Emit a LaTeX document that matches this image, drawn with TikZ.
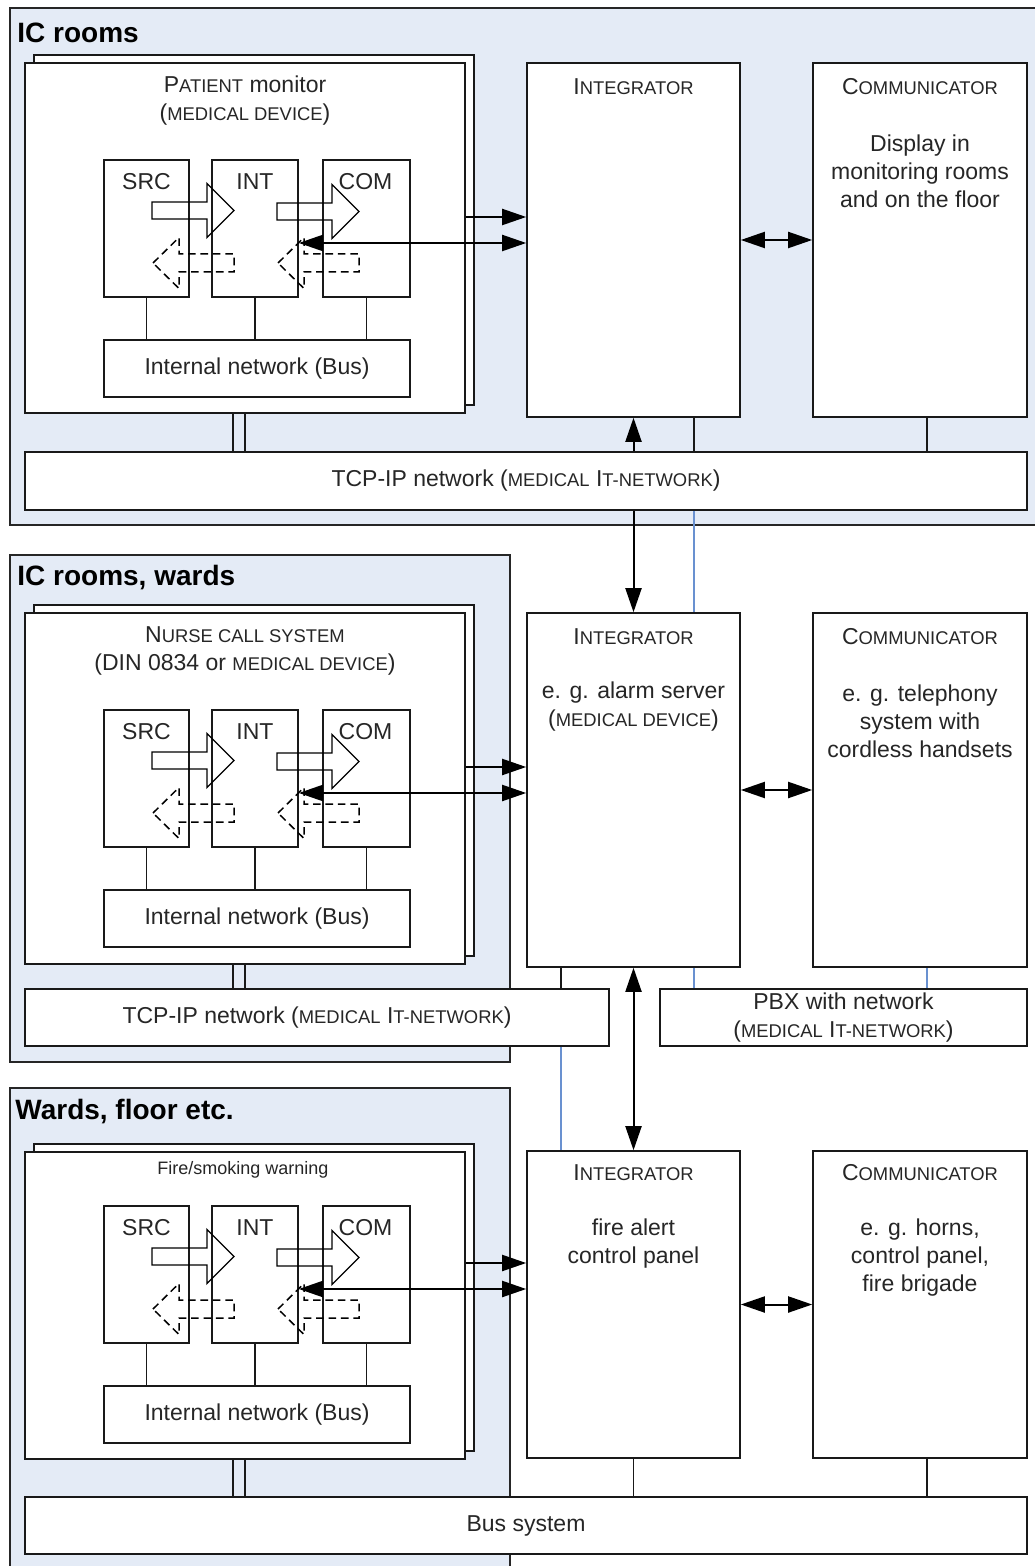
\documentclass[tikz,border=0pt]{standalone}
\usepackage{fontspec}
\setmainfont{Liberation Sans}
\usepackage{tikz}
\usetikzlibrary{arrows.meta,positioning,calc}

\definecolor{roombg}{RGB}{228,235,246}
\definecolor{netblue}{RGB}{105,145,208}

% smaller capitals
\newcommand{\kl}[1]{{\fontsize{9.2}{11}\selectfont #1}}

\tikzset{
  room/.style={draw=black!85, fill=roombg, line width=0.8pt},
  box/.style={draw=black!90, fill=white, line width=0.8pt, inner sep=0pt},
  txt/.style={font=\fontsize{11.5}{14}\selectfont, align=center, inner sep=0pt, text=black!85},
  title/.style={font=\fontsize{14}{16}\selectfont\bfseries, anchor=west, inner sep=0pt},
  link/.style={draw=black!90, line width=0.8pt},
  bluelink/.style={draw=netblue, line width=0.65pt},
  flow/.style={line width=1pt, -{Triangle[length=12pt,width=8pt]}},
  flow2/.style={line width=1pt, {Triangle[length=12pt,width=8pt]}-{Triangle[length=12pt,width=8pt]}},
  pics/fatarrow/.style={code={
    \draw[line width=0.65pt] (0,-8.5) -- (55,-8.5) -- (55,-27) -- (82,0) -- (55,27) -- (55,8.5) -- (0,8.5) -- cycle;}},
  pics/backarrow/.style={code={
    \draw[line width=0.75pt, dash pattern=on 3.8pt off 2.4pt] (0,0) -- (26,-25.5) -- (26,-9) -- (81,-9) -- (81,9) -- (26,9) -- (26,25.5) -- cycle;}},
}

\begin{document}
\begin{tikzpicture}[x=0.5pt,y=-0.5pt]
        \useasboundingbox (0,0) rectangle (1034,1566);
        % rooms
        \draw[room] (10,8) rectangle (1050,525);
        \draw[room] (10,555) rectangle (510,1062);
        \draw[room] (10,1088) rectangle (510,1590);
        \node[title] (roomA) at (17,33) {IC rooms};
        \node[title] (roomB) at (17,578) {IC rooms, wards};
        \node[title] (roomC) at (15,1112) {Wards, floor etc.};

        \coordinate (lnA) at (233,0);
        \coordinate (lnB) at (245,0);
        \coordinate (lnC) at (694,0);
        \coordinate (lnD) at (561,0);
        \coordinate (lnE) at (927,0);

        % integrators, communicators
        \node[box, minimum width=106.5pt, minimum height=177pt] (integA) at (633.5,240) {};
        \node[box, minimum width=107pt, minimum height=177pt] (commA) at (920,240) {};
        \node[box, minimum width=106.5pt, minimum height=177pt] (integB) at (633.5,790) {};
        \node[box, minimum width=107pt, minimum height=177pt] (commB) at (920,790) {};
        \node[box, minimum width=106.5pt, minimum height=153.5pt] (integC) at (633.5,1304.5) {};
        \node[box, minimum width=107pt, minimum height=153.5pt] (commC) at (920,1304.5) {};

        \node[txt] (integAt) at (633.5,87) {I\kl{NTEGRATOR}};
        \node[txt] (commAt) at (920,87) {C\kl{OMMUNICATOR}};
        \node[txt] (commAd) at (920,171) {Display in\\monitoring rooms\\and on the floor};
        \node[txt] (integBt) at (633.5,637) {I\kl{NTEGRATOR}};
        \node[txt] (integBd) at (633.5,707) {e. g. alarm server\\(\kl{MEDICAL DEVICE})};
        \node[txt] (commBt) at (920,637) {C\kl{OMMUNICATOR}};
        \node[txt] (commBd) at (920,721) {e. g. telephony\\system with\\cordless handsets};
        \node[txt] (integCt) at (633.5,1173) {I\kl{NTEGRATOR}};
        \node[txt] (integCd) at (633.5,1244) {fire alert\\control panel};
        \node[txt] (commCt) at (920,1173) {C\kl{OMMUNICATOR}};
        \node[txt] (commCd) at (920,1258) {e. g. horns,\\control panel,\\fire brigade};

        % networks
        \node[box, txt, minimum width=501pt, minimum height=29pt] (tcpA) at (526,481) {TCP-IP network (\kl{MEDICAL} I\kl{T-NETWORK})};
        \node[box, txt, minimum width=292pt, minimum height=28.5pt] (tcpB) at (317,1017.5) {TCP-IP network (\kl{MEDICAL} I\kl{T-NETWORK})};
        \node[box, txt, minimum width=183.5pt, minimum height=28.5pt] (pbx) at (843.5,1017.5) {PBX with network\\(\kl{MEDICAL} I\kl{T-NETWORK})};
        \node[box, txt, minimum width=501pt, minimum height=28.5pt] (bussys) at (526,1525.5) {Bus system};

        % devices
        \foreach \s/\o/\t/\b/\n in {A/0/63/413/tcpA, B/550/613/964/tcpB, C/1046/1152/1459/bussys}{
          \pgfmathsetmacro\h{(\b-\t)/2}
          \node[box, minimum width=220pt, minimum height=\h pt] (devb\s) at (254,{(\t+\b)/2-8}) {};
          \node[box, minimum width=220pt, minimum height=\h pt] (dev\s) at (245,{(\t+\b)/2}) {};
          \node[box, minimum width=42.5pt, minimum height=68.5pt] (src\s) at (146.5,228.5+\o) {};
          \node[box, minimum width=43pt, minimum height=68.5pt] (int\s) at (255,228.5+\o) {};
          \node[box, minimum width=43.5pt, minimum height=68.5pt] (com\s) at (366.5,228.5+\o) {};
          \node[box, txt, minimum width=153pt, minimum height=28.5pt] (ibus\s) at (257,368.5+\o) {Internal network (Bus)};
          \node[txt] (srct\s) at (146.5,182+\o) {SRC};
          \node[txt] (intt\s) at (255,182+\o) {INT};
          \node[txt] (comt\s) at (365.5,182+\o) {COM};
          \draw[link] (src\s) -- (src\s |- ibus\s.north);
          \draw[link] (int\s) -- (int\s |- ibus\s.north);
          \draw[link] (com\s) -- (com\s |- ibus\s.north);
          \pic at (152,210.5+\o) {fatarrow};
          \pic at (277,211.5+\o) {fatarrow};
          \pic at (153,263+\o) {backarrow};
          \pic at (278,263+\o) {backarrow};
          \coordinate (ya\s) at (0,217+\o);
          \coordinate (yb\s) at (0,243+\o);
          \draw[flow] (dev\s.east |- ya\s) -- (integ\s.west |- ya\s);
          \draw[flow2] (int\s.east |- yb\s) -- (integ\s.west |- yb\s);
          \draw[link] (lnA |- dev\s.south) -- (lnA |- \n.north);
          \draw[link] (lnB |- dev\s.south) -- (lnB |- \n.north);
          \draw[flow2] (integ\s) -- (comm\s);
        }
        \node[txt] (devAt) at (245,101) {P\kl{ATIENT} monitor\\(\kl{MEDICAL DEVICE})};
        \node[txt] (devBt) at (245,651) {N\kl{URSE CALL SYSTEM}\\(DIN 0834 or \kl{MEDICAL DEVICE})};
        \node[txt, font=\fontsize{9}{11}\selectfont] (devCt) at (243,1170) {Fire/smoking warning};

        % links between the rooms
        \draw[flow] (tcpA.north -| integA) -- (integA);
        \draw[flow] (tcpA.south -| integA) -- (integB);
        \draw[flow2] (integB) -- (integC);
        \draw[link] (lnC |- integA.south) -- (lnC |- tcpA.north);
        \draw[link] (lnE |- commA.south) -- (lnE |- tcpA.north);
        \draw[bluelink] (lnC |- tcpA.south) -- (lnC |- integB.north);
        \draw[link] (lnD |- integB.south) -- (lnD |- tcpB.north);
        \draw[bluelink] (lnC |- integB.south) -- (lnC |- pbx.north);
        \draw[bluelink] (lnE |- commB.south) -- (lnE |- pbx.north);
        \draw[bluelink] (lnD |- tcpB.south) -- (lnD |- integC.north);
        \draw[link] (integC) -- (integC |- bussys.north);
        \draw[link] (lnE |- commC.south) -- (lnE |- bussys.north);
\end{tikzpicture}
\end{document}
